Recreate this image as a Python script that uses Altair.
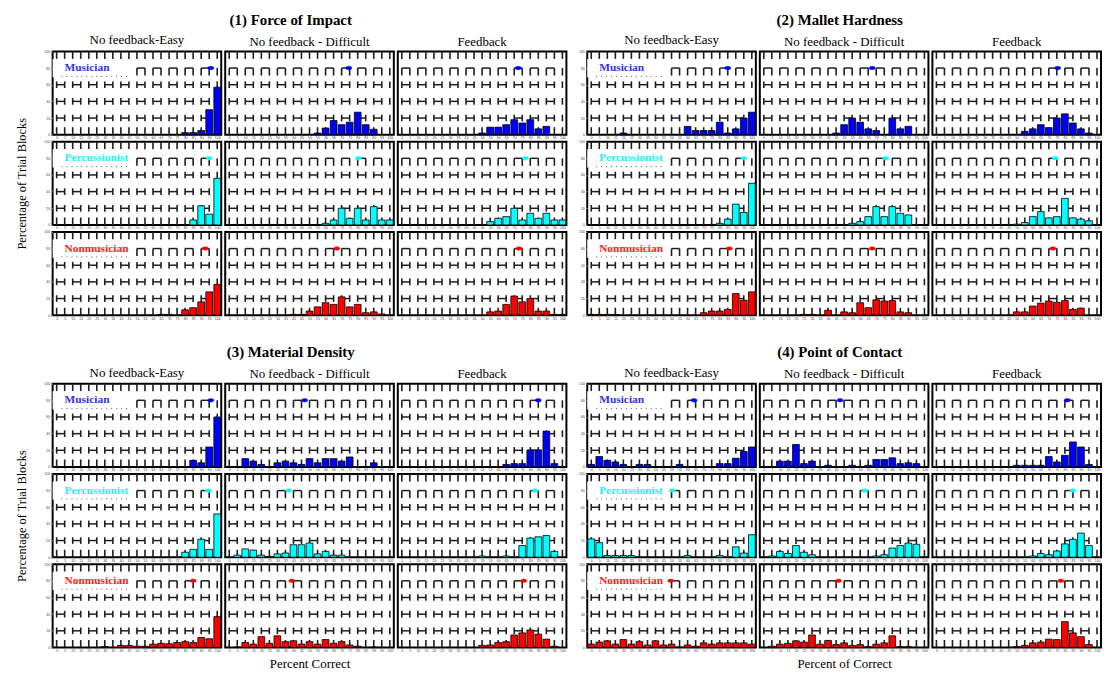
import altair as alt
import pandas as pd

# ---------------- data ----------------
BINS = list(range(0, 105, 5))
CONDITIONS = ["No feedback-Easy", "No feedback - Difficult", "Feedback"]
PLAYERS = ["Musician", "Percussionist", "Nonmusician"]
GROUP_TITLES = ["(1) Force of Impact", "(2) Mallet Hardness",
                "(3) Material Density", "(4) Point of Contact"]
X_TITLES = ["", "", "Percent Correct", "Percent of Correct"]
Y_TITLE = "Percentage of Trial Blocks"
Y_TICKS = [0, 20, 40, 60, 80, 100]

# (1) Force of Impact
force_mus_easy = [0,0,0,0,0,0,0,0,0,0,0,0,0,0,0,0,2.5,2.5,5,30,57]
force_mus_diff = [0,0,0,0,0,0,0,0,0,0,0,2,8,17,12,15,27,12,6.5,0,0]
force_mus_fb   = [0,0,0,0,0,0,0,0,0,0,2,9,9,12,18,14,18,7,10,0,0]
force_per_easy = [0,0,0,0,0,0,0,0,0,0,0,0,0,0,0,0,0,6,23,13,56]
force_per_diff = [0,0,0,0,0,0,0,0,0,0,0,0,2,6,20,8,20,6,22,6,6]
force_per_fb   = [0,0,0,0,0,0,0,0,0,0,0,4,8,10,20,6,14,8,14,6,6]
force_non_easy = [0,0,0,0,0,0,0,0,0,0,0,0,0,1,1,0,6.5,9,16,28,37]
force_non_diff = [0,0,0,0,0,0,0,0,1,1,5,10,15,13,22,10,13,3,4,1.5,0]
force_non_fb   = [0,0,0,0,0,0,0,0,0,0,0,4,5,13,23,16,20,5,5,1,1]
force_means = [[96, 74.5, 72.5], [95, 80.5, 77], [92.5, 67, 73]]

# (2) Mallet Hardness
mallet_mus_easy = [0,0,0,0,2,0,0,0,0,0,0,0,10,5,5,5,15,2,7,20,27]
mallet_mus_diff = [0,0,0,0,0,0,0,0,0,2,12,20,15,7,5,0,20,7,10,0,0]
mallet_mus_fb   = [0,0,0,0,0,0,0,0,0,0,0,4,7,12,8.5,20,25,14,7,2,0]
mallet_per_easy = [0,0,0,0,0,0,0,0,0,0,0,0,0,0,0,0,2,7,25,15,50]
mallet_per_diff = [0,0,0,0,0,0,0,0,0,0,0,2,4,10,22,10,22,14,12,0,0]
mallet_per_fb   = [0,0,0,0,0,0,0,0,0,0,1,3,10,16,8.5,10,32,8.5,7,5,0]
mallet_non_easy = [1,1,1,1,0,0,0,0,0,0,0,0,0,0,3,5,5,7,26,18,28]
mallet_non_diff = [0,0,0,0,0,1,1,0,6,0,4,3,15,9,18.5,17,17.5,4,3,0,0]
mallet_non_fb   = [0,0,0,0,0,0,0,0,0,0,4,4,11,14.5,17,15.5,17.5,7,8.5,0,0]
mallet_means = [[85, 67.5, 75.5], [95, 76, 74], [86, 67.5, 72.5]]

# (3) Material Density
density_mus_easy = [0,0,0,0,0,0,0,0,0,0,0,0,0,0,0,0,0,8,5,24,60]
density_mus_diff = [0,0,10,7,3,0,5,7,5,3,10,5,10,10,7,12,0,0,5,0,0]
density_mus_fb   = [0,0,0,0,0,0,0,0,0,0,0,0,0,3,4,4,20.5,20.5,43,4,0]
density_per_easy = [0,0,0,0,0,0,0,0,0,0,0,0,0,0,0,0,6,9.5,21.5,9.5,52]
density_per_diff = [0,2.5,10,8.5,2.5,1,4,5,15,15,17,4,7,2.5,2.5,0,0,0,0,0,0]
density_per_fb   = [0,0,0,0,0,0,0,0,0,0,1.5,0,0,1.5,0,14,23,24.5,26,7,0]
density_non_easy = [0,0,0,0,0,0,1,0,2.5,2.5,1.5,1.5,4,5,4.5,6,7,6,12,10.5,37]
density_non_diff = [0,0.5,6,4,13,5,14,7,8,4,7,4,9.5,5,7,3,1.5,0,0.5,0,0]
density_non_fb   = [0,0,0,0,0,0,0,0,0,0,2.5,3,6,7,15,17.5,21,16,10,1.5,0]
density_means = [[96, 47, 85], [94.5, 37, 83], [85, 39, 76]]

# (4) Point of Contact
contact_mus_easy = [3,12.5,8,6,3,0,3,3,0,0,0,3,0,0,0,0,4,4,10.5,18.5,24]
contact_mus_diff = [0,0,7,7,27,4,7,0,2,0,0,2,0,2,9,9,11,4,5,4,0]
contact_mus_fb   = [0,0,0,0,0,0,0,0,0,0,2,2,2,2,12.5,6,14,30,24,3,0]
contact_per_easy = [22,17.5,2,2,2,2,0,0,0,0,0,0,2,0,0,0,2,0,12.5,5,27]
contact_per_diff = [0,1.5,7,4.5,14,6,3,0,0,0,0,0,0,0,1.5,3,11,14,17,15.5,0]
contact_per_fb   = [0,0,0,0,0,0,0,0,0,0,0,0,1.5,4.5,3,7.5,16,21.5,29,14,0]
contact_non_easy = [4,6.5,8,4,9.5,4,7,3,8,3,4,0.5,3,1.5,5.5,4,5.5,5.5,5.5,5.5,4]
contact_non_diff = [0,1.5,4,5,8,6.5,15,4,8.5,3.5,5.5,2.5,3.5,1,4,5.5,14,1,1,0,0]
contact_non_fb   = [0,0,0,0,0,0,0,0,0,0,1,2.5,5.5,6.5,10,9.5,31,17.5,13,3.5,0]
contact_means = [[64, 47.5, 81.5], [50.5, 63, 85], [49.5, 46.5, 77.5]]

GROUPS = [
    [[force_mus_easy, force_mus_diff, force_mus_fb],
     [force_per_easy, force_per_diff, force_per_fb],
     [force_non_easy, force_non_diff, force_non_fb]],
    [[mallet_mus_easy, mallet_mus_diff, mallet_mus_fb],
     [mallet_per_easy, mallet_per_diff, mallet_per_fb],
     [mallet_non_easy, mallet_non_diff, mallet_non_fb]],
    [[density_mus_easy, density_mus_diff, density_mus_fb],
     [density_per_easy, density_per_diff, density_per_fb],
     [density_non_easy, density_non_diff, density_non_fb]],
    [[contact_mus_easy, contact_mus_diff, contact_mus_fb],
     [contact_per_easy, contact_per_diff, contact_per_fb],
     [contact_non_easy, contact_non_diff, contact_non_fb]],
]
MEANS = [force_means, mallet_means, density_means, contact_means]

# ---------------- style ----------------
SERIF = "Liberation Serif"
W, H = 170, 84
BAR_COLORS = ["#0000f5", "#00ffff", "#ff0000"]
LABEL_COLORS = ["#3535d8", "#1ff2f2", "#ff1c1c"]
GRID_COLOR = "#1e1e1e"
STROKE_LO = [0, 16, 36, 56, 71, 91]
STROKE_HI = [9, 24, 44, 64, 80, 100]
SEG_LEVELS = [20, 40, 60, 80]
SEG_STARTS = list(range(0, 100, 10))

XS = alt.Scale(domain=[-2.5, 102.5], nice=False, zero=False)
YS = alt.Scale(domain=[0, 100], nice=False, zero=True)

grid_v = pd.DataFrame([(b, lo, hi) for lo, hi in zip(STROKE_LO, STROKE_HI) for b in BINS],
                      columns=["gx", "glo", "ghi"])
grid_h = pd.DataFrame([(s, s + 5, lv) for lv in SEG_LEVELS for s in SEG_STARTS],
                      columns=["hx", "hx2", "hy"])

ELLIPSE = ("M-1,0 L-0.75,-0.4 L0,-0.55 L0.75,-0.4 L1,0 "
           "L0.75,0.4 L0,0.55 L-0.75,0.4 Z")


def make_panel(gi, ri, ci):
    vals = GROUPS[gi][ri][ci]
    mean = MEANS[gi][ri][ci]
    player = PLAYERS[ri]

    x_title = X_TITLES[gi] if (ri == 2 and ci == 1 and X_TITLES[gi]) else None
    x_axis = alt.Axis(values=BINS, labelFontSize=3.5, labelPadding=1, ticks=False,
                      domain=False, grid=False, labelColor="#444", labelOverlap=False,
                      labelFlush=False, title=x_title, titleFont=SERIF, titleFontSize=13,
                      titleFontWeight="normal", titlePadding=6, titleColor="black")
    if ci == 0:
        y_title = Y_TITLE if (ri == 1 and gi in (0, 2)) else None
        y_axis = alt.Axis(values=Y_TICKS, labelFontSize=3.5, labelPadding=1, ticks=True,
                          tickSize=2, domain=False, grid=False, labelColor="#444",
                          labelFlush=False, title=y_title, titleFont=SERIF, titleFontSize=12.5,
                          titleFontWeight="normal", titlePadding=16, titleColor="black")
    else:
        y_axis = None

    layers = []
    layers.append(alt.Chart(grid_v).mark_rule(color=GRID_COLOR, strokeWidth=1.6).encode(
        x=alt.X("gx:Q", scale=XS, axis=x_axis),
        y=alt.Y("glo:Q", scale=YS, axis=y_axis),
        y2="ghi:Q",
    ))
    layers.append(alt.Chart(grid_h).mark_rule(color=GRID_COLOR, strokeWidth=1.5).encode(
        x=alt.X("hx:Q", scale=XS, axis=x_axis),
        x2="hx2:Q",
        y=alt.Y("hy:Q", scale=YS, axis=y_axis),
    ))
    if ci == 0:
        lab_df = pd.DataFrame({"player": [player]})
        layers.append(alt.Chart(lab_df).mark_rect(fill="white").encode(
            x=alt.value(0), x2=alt.value(82), y=alt.value(H * 0.09), y2=alt.value(H * 0.31)
        ))
        layers.append(alt.Chart(lab_df).mark_rule(
            color="#555", strokeDash=[1, 4], strokeWidth=1
        ).encode(x=alt.value(9), x2=alt.value(76), y=alt.value(H * 0.30)))
        layers.append(alt.Chart(lab_df).mark_text(
            align="left", baseline="middle", font=SERIF, fontSize=11.5, fontWeight="bold",
            color=LABEL_COLORS[ri]
        ).encode(x=alt.value(12), y=alt.value(H * 0.2), text="player:N"))

    bar_df = pd.DataFrame({"bin": BINS, "value": vals})
    layers.append(alt.Chart(bar_df).transform_filter("datum.value > 0").transform_calculate(
        x0="datum.bin - 2.1", x1="datum.bin + 2.1", base="0"
    ).mark_rect(color=BAR_COLORS[ri], stroke="black", strokeWidth=0.8).encode(
        x=alt.X("x0:Q", scale=XS, axis=x_axis),
        x2="x1:Q",
        y=alt.Y("value:Q", scale=YS, axis=y_axis),
        y2="base:Q",
    ))
    mean_df = pd.DataFrame({"mean": [mean]})
    layers.append(alt.Chart(mean_df).mark_point(
        shape=ELLIPSE, filled=True, size=40, color=BAR_COLORS[ri], opacity=1,
        stroke=BAR_COLORS[ri], strokeWidth=0.5
    ).encode(
        x=alt.X("mean:Q", scale=XS, axis=x_axis),
        y=alt.value(H * 0.2),
    ))

    props = dict(width=W, height=H)
    if ri == 0:
        props["title"] = alt.TitleParams(CONDITIONS[ci], font=SERIF, fontSize=13,
                                         fontWeight="normal", offset=2, anchor="middle",
                                         color="black")
    return alt.layer(*layers).properties(**props)


def make_group(gi):
    panels = [make_panel(gi, ri, ci) for ri in range(3) for ci in range(3)]
    return alt.concat(*panels, columns=3, spacing={"row": 7, "column": 4},
                      bounds="flush").properties(
        title=alt.TitleParams(GROUP_TITLES[gi], font=SERIF, fontSize=15, fontWeight="bold",
                              anchor="middle", offset=6, color="black")
    )


chart = alt.vconcat(
    alt.hconcat(make_group(0), make_group(1), spacing=10),
    alt.hconcat(make_group(2), make_group(3), spacing=10),
    spacing=24,
).properties(
    padding={"left": 6, "top": 2, "right": 0, "bottom": 0}
).configure_view(
    stroke="black", strokeWidth=2
)

chart.save("out.html", embed_options={"renderer": "svg", "actions": False})
